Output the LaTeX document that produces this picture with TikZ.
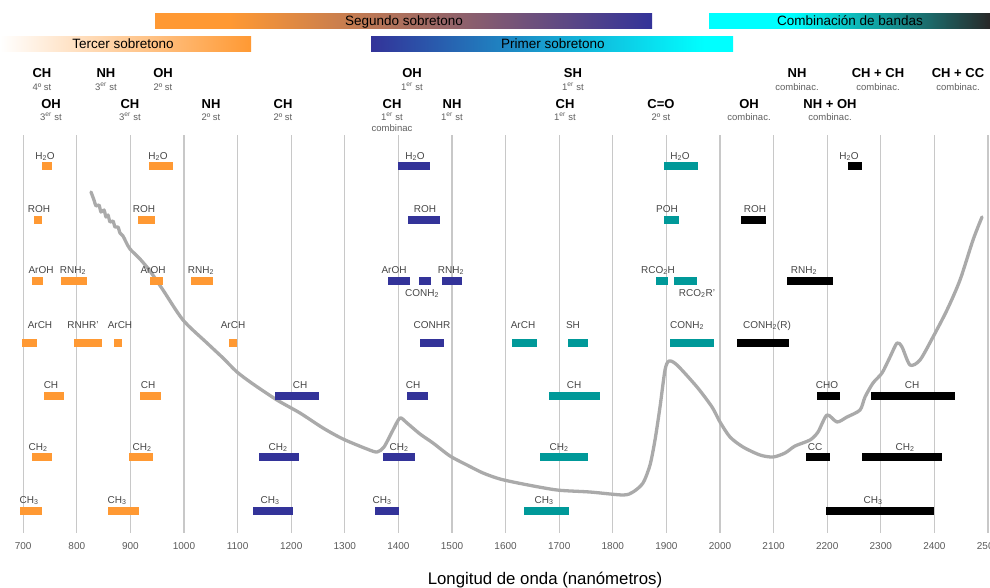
\documentclass[tikz,border=0pt]{standalone}
\usepackage{fontspec}
\setmainfont{Liberation Sans}
\definecolor{orangeB}{RGB}{255,153,51}
\definecolor{blueB}{RGB}{51,51,153}
\definecolor{tealB}{RGB}{0,153,153}
\definecolor{cyanB}{RGB}{0,255,255}
\definecolor{gridc}{RGB}{200,200,200}
\definecolor{curvec}{RGB}{170,170,170}
\definecolor{labc}{RGB}{70,70,70}
\definecolor{subc}{RGB}{95,95,95}
\definecolor{tickc}{RGB}{90,90,90}
\definecolor{darkc}{RGB}{40,40,40}
\pgfdeclarehorizontalshading{segshade}{100bp}{color(0bp)=(orangeB); color(32.5bp)=(orangeB); color(75bp)=(blueB); color(100bp)=(blueB)}
\pgfdeclarehorizontalshading{combshade}{100bp}{color(0bp)=(cyanB); color(39.5bp)=(cyanB); color(75bp)=(darkc); color(100bp)=(darkc)}
\pgfdeclarehorizontalshading{primshade}{100bp}{color(0bp)=(blueB); color(25bp)=(blueB); color(71bp)=(cyanB); color(100bp)=(cyanB)}
\pgfdeclarehorizontalshading{tershade}{100bp}{color(0bp)=(white); color(25bp)=(white); color(75bp)=(orangeB); color(100bp)=(orangeB)}
\newcommand\bnd[8]{\fill[#1] (#2,#4) rectangle (#3,#4+8); \node[lab] (#8) at (#5,#6) {#7};}
\def\ra{162}\def\la{159}
\def\rb{216}\def\lb{212}
\def\rc{277}\def\lc{273}
\def\rd{339}\def\ld{328}
\def\re{392}\def\le{388}
\def\rf{453}\def\lf{450}
\def\rg{507}\def\lg{503}
\begin{document}
\begin{tikzpicture}[x=1pt,y=-1pt,
  lab/.style={font=\fontsize{10}{12}\selectfont, text=labc, inner sep=0pt, anchor=base},
  head/.style={font=\fontsize{13}{15}\selectfont\bfseries, text=black, inner sep=0pt, anchor=base},
  sub/.style={font=\fontsize{9.5}{11}\selectfont, text=subc, inner sep=0pt, anchor=base},
  ticklab/.style={font=\fontsize{10}{12}\selectfont, text=tickc, inner sep=0pt, anchor=base},
  toplab/.style={font=\fontsize{13.5}{15}\selectfont, text=black, inner sep=0pt, anchor=base},
  gridl/.style={draw=gridc, line width=1.2pt},
  spectrum/.style={draw=curvec, line width=3.3pt, line join=round, line cap=round}]
\useasboundingbox (0,0) rectangle (990,587);
% top bars
\shade[shading=segshade] (155,13) rectangle (652,28);
\node[toplab] (segundo) at (404,25.5) {Segundo sobretono};
\shade[shading=tershade] (0,36) rectangle (251,51);
\node[toplab] (tercer) at (123,48.5) {Tercer sobretono};
\shade[shading=primshade] (371,36) rectangle (733,51);
\node[toplab] (primer) at (553,48.5) {Primer sobretono};
\shade[shading=combshade] (709,13) rectangle (990,28);
\node[toplab] (combo) at (850,25.5) {Combinación de bandas};
% header labels row 1
\node[head] (h1) at (42,77) {CH};   \node[sub] (s1) at (42,90) {4º st};
\node[head] (h2) at (106,77) {NH};  \node[sub] (s2) at (106,90) {3\textsuperscript{er} st};
\node[head] (h3) at (163,77) {OH};  \node[sub] (s3) at (163,90) {2º st};
\node[head] (h4) at (412,77) {OH};  \node[sub] (s4) at (412,90) {1\textsuperscript{er} st};
\node[head] (h5) at (573,77) {SH};  \node[sub] (s5) at (573,90) {1\textsuperscript{er} st};
\node[head] (h6) at (797,77) {NH};  \node[sub] (s6) at (797,90) {combinac.};
\node[head] (h7) at (878,77) {CH + CH};  \node[sub] (s7) at (878,90) {combinac.};
\node[head] (h8) at (958,77) {CH + CC};  \node[sub] (s8) at (958,90) {combinac.};
% header labels row 2
\node[head] (k1) at (51,108.5) {OH};   \node[sub] (u1) at (51,120.5) {3\textsuperscript{er} st};
\node[head] (k2) at (130,108.5) {CH};  \node[sub] (u2) at (130,120.5) {3\textsuperscript{er} st};
\node[head] (k3) at (211,108.5) {NH};  \node[sub] (u3) at (211,120.5) {2º st};
\node[head] (k4) at (283,108.5) {CH};  \node[sub] (u4) at (283,120.5) {2º st};
\node[head] (k5) at (392,108.5) {CH};  \node[sub] (u5) at (392,120.5) {1\textsuperscript{er} st};
\node[sub] (u5b) at (392,131) {combinac};
\node[head] (k6) at (452,108.5) {NH};  \node[sub] (u6) at (452,120.5) {1\textsuperscript{er} st};
\node[head] (k7) at (565,108.5) {CH};  \node[sub] (u7) at (565,120.5) {1\textsuperscript{er} st};
\node[head] (k8) at (661,108.5) {C=O}; \node[sub] (u8) at (661,120.5) {2º st};
\node[head] (k9) at (749,108.5) {OH};  \node[sub] (u9) at (749,120.5) {combinac.};
\node[head] (k10) at (830,108.5) {NH + OH}; \node[sub] (u10) at (830,120.5) {combinac.};
% grid and ticks
\foreach \i in {0,...,18} {
  \pgfmathtruncatemacro\w{700+100*\i}
  \draw[gridl] ({23.2+53.6*\i},135) -- ({23.2+53.6*\i},533);
  \node[ticklab] (t\i) at ({23.2+53.6*\i},549) {\w};
}
\node[font=\fontsize{16.8}{19}\selectfont, anchor=base, inner sep=0pt] (title) at (545,584) {Longitud de onda (nanómetros)};
% spectrum
\draw[spectrum] plot[smooth, tension=0.45] coordinates {
(91,192) (94,200) (96,206) (99,205) (101,212) (104,210) (106,217) (108,215) (110,222) (113,221) (115,227) (118,227) (120,233) (123,236) (126,242) (130,249) (140,259) (150,271) (163,290) (183,320) (207,343) (223,358) (237,372) (253,384) (277,400) (300,413) (323,428) (343,439) (367,449) (377,452) (384,447) (393,430) (400,418) (407,423) (420,434) (433,443) (450,456) (467,465) (483,473) (500,479) (523,484) (557,490) (590,492) (623,495) (633,492) (643,483) (650,465) (655,440) (660,407) (665,370) (669,361) (677,365) (697,387) (712,407) (720,422) (730,437) (743,447) (760,455) (773,457) (785,453) (795,446) (810,440) (818,432) (827,415) (837,422) (847,417) (860,410) (865,397) (873,383) (882,373) (890,357) (897,343) (902,347) (910,365) (920,360) (933,337) (947,310) (960,280) (973,240) (982,217)};
% orange bands
\bnd{orangeB}{42}{52}{\ra}{45}{\la}{H\textsubscript{2}O}{oa1}
\bnd{orangeB}{149}{173}{\ra}{158}{\la}{H\textsubscript{2}O}{oa2}
\bnd{orangeB}{34}{42}{\rb}{39}{\lb}{ROH}{ob1}
\bnd{orangeB}{138}{155}{\rb}{144}{\lb}{ROH}{ob2}
\bnd{orangeB}{32}{43}{\rc}{41}{\lc}{ArOH}{oc1}
\bnd{orangeB}{61}{87}{\rc}{73}{\lc}{RNH\textsubscript{2}}{oc2}
\bnd{orangeB}{150}{163}{\rc}{153}{\lc}{ArOH}{oc3}
\bnd{orangeB}{191}{213}{\rc}{201}{\lc}{RNH\textsubscript{2}}{oc4}
\bnd{orangeB}{22}{37}{\rd}{40}{\ld}{ArCH}{od1}
\bnd{orangeB}{74}{102}{\rd}{83}{\ld}{RNHR'}{od2}
\bnd{orangeB}{114}{122}{\rd}{120}{\ld}{ArCH}{od3}
\bnd{orangeB}{229}{237}{\rd}{233}{\ld}{ArCH}{od4}
\bnd{orangeB}{44}{64}{\re}{51}{\le}{CH}{oe1}
\bnd{orangeB}{140}{161}{\re}{148}{\le}{CH}{oe2}
\bnd{orangeB}{32}{52}{\rf}{38}{\lf}{CH\textsubscript{2}}{of1}
\bnd{orangeB}{129}{153}{\rf}{142}{\lf}{CH\textsubscript{2}}{of2}
\bnd{orangeB}{20}{42}{\rg}{29}{\lg}{CH\textsubscript{3}}{og1}
\bnd{orangeB}{108}{139}{\rg}{117}{\lg}{CH\textsubscript{3}}{og2}
% blue bands
\bnd{blueB}{398}{430}{\ra}{415}{\la}{H\textsubscript{2}O}{ba1}
\bnd{blueB}{408}{440}{\rb}{425}{\lb}{ROH}{bb1}
\bnd{blueB}{388}{410}{\rc}{394}{\lc}{ArOH}{bc1}
\fill[blueB] (419,\rc) rectangle (431,\rc+8);
\node[lab] (bc2) at (422,296) {CONH\textsubscript{2}};
\bnd{blueB}{442}{462}{\rc}{451}{\lc}{RNH\textsubscript{2}}{bc3}
\bnd{blueB}{420}{444}{\rd}{432}{\ld}{CONHR}{bd1}
\bnd{blueB}{275}{319}{\re}{300}{\le}{CH}{be1}
\bnd{blueB}{407}{428}{\re}{413}{\le}{CH}{be2}
\bnd{blueB}{259}{299}{\rf}{278}{\lf}{CH\textsubscript{2}}{bf1}
\bnd{blueB}{383}{415}{\rf}{399}{\lf}{CH\textsubscript{2}}{bf2}
\bnd{blueB}{253}{293}{\rg}{270}{\lg}{CH\textsubscript{3}}{bg1}
\bnd{blueB}{375}{399}{\rg}{382}{\lg}{CH\textsubscript{3}}{bg2}
% teal bands
\bnd{tealB}{664}{698}{\ra}{680}{\la}{H\textsubscript{2}O}{ta1}
\bnd{tealB}{664}{679}{\rb}{667}{\lb}{POH}{tb1}
\bnd{tealB}{656}{668}{\rc}{658}{\lc}{RCO\textsubscript{2}H}{tc1}
\fill[tealB] (674,\rc) rectangle (697,\rc+8);
\node[lab] (tc2) at (697,296) {RCO\textsubscript{2}R'};
\bnd{tealB}{512}{537}{\rd}{523}{\ld}{ArCH}{td1}
\bnd{tealB}{568}{588}{\rd}{573}{\ld}{SH}{td2}
\bnd{tealB}{670}{714}{\rd}{687}{\ld}{CONH\textsubscript{2}}{td3}
\bnd{tealB}{549}{600}{\re}{574}{\le}{CH}{te1}
\bnd{tealB}{540}{588}{\rf}{559}{\lf}{CH\textsubscript{2}}{tf1}
\bnd{tealB}{524}{569}{\rg}{544}{\lg}{CH\textsubscript{3}}{tg1}
% black bands
\bnd{black}{848}{862}{\ra}{849}{\la}{H\textsubscript{2}O}{ka1}
\bnd{black}{741}{766}{\rb}{755}{\lb}{ROH}{kb1}
\bnd{black}{787}{833}{\rc}{804}{\lc}{RNH\textsubscript{2}}{kc1}
\bnd{black}{737}{789}{\rd}{767}{\ld}{CONH\textsubscript{2}(R)}{kd1}
\bnd{black}{817}{840}{\re}{827}{\le}{CHO}{ke1}
\bnd{black}{871}{955}{\re}{912}{\le}{CH}{ke2}
\bnd{black}{806}{830}{\rf}{815}{\lf}{CC}{kf1}
\bnd{black}{862}{942}{\rf}{905}{\lf}{CH\textsubscript{2}}{kf2}
\bnd{black}{826}{934}{\rg}{873}{\lg}{CH\textsubscript{3}}{kg1}
\end{tikzpicture}
\end{document}
